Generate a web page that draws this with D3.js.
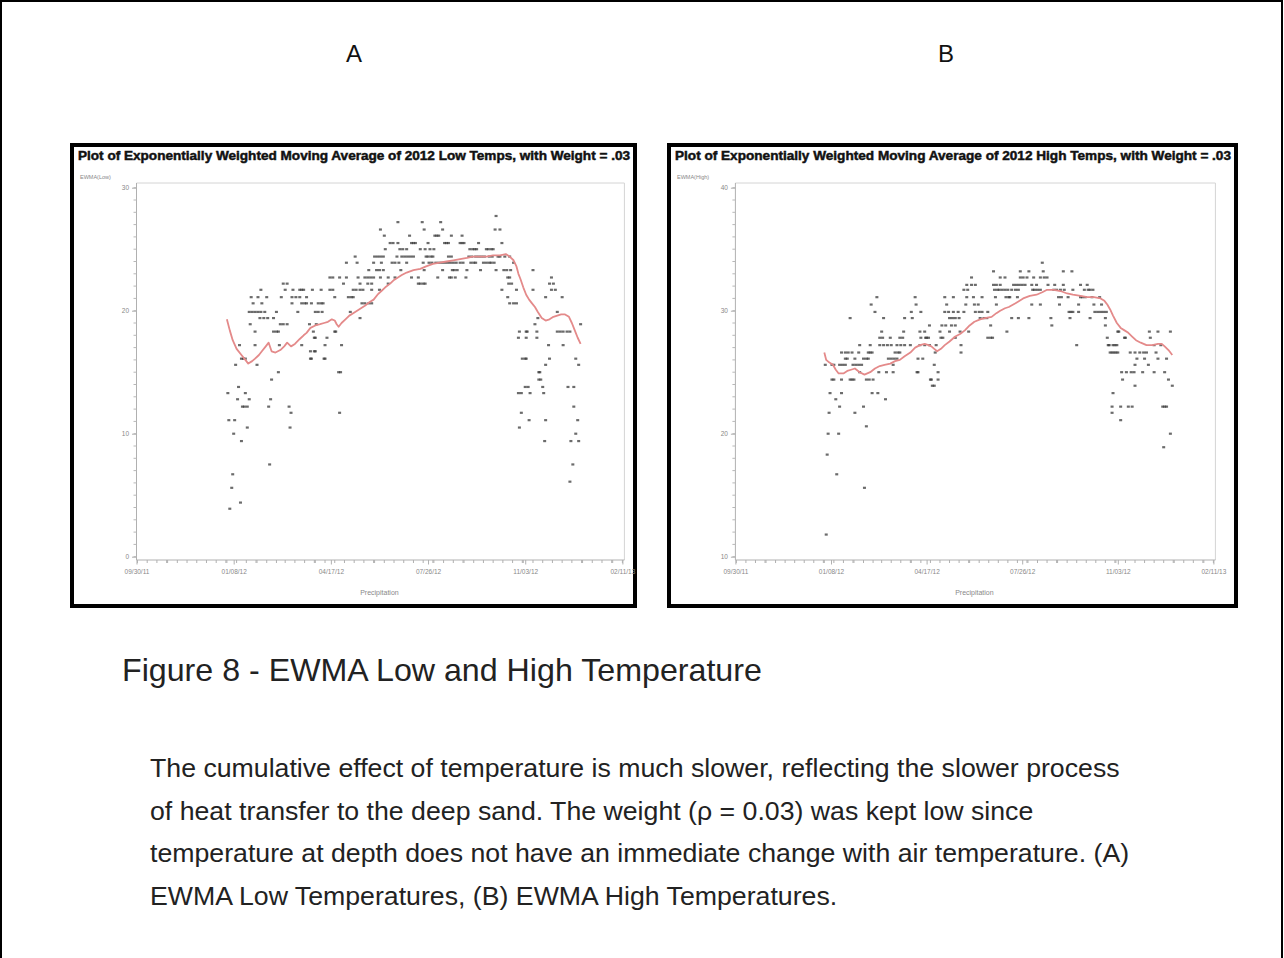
<!DOCTYPE html>
<html><head><meta charset="utf-8">
<script src="https://cdn.jsdelivr.net/npm/d3@7"></script>
<style>body{margin:0;background:#fff}svg{display:block}</style>
</head><body>
<svg id="c" width="1284" height="958"></svg>
<script>
// ---------- DATA ----------
// Day index = days since 1 Jan 2012
const xTickLabels = ["09/30/11","01/08/12","04/17/12","07/26/12","11/03/12","02/11/13"];
const xTickDates = [[2011,8,30],[2012,0,8],[2012,3,17],[2012,6,26],[2012,10,3],[2013,1,11]];
const lowYTicks = [0,10,20,30];
const highYTicks = [10,20,30,40];

// Low temps: [value, [days]]
const lowRows = [
 [27.7,[277]],
 [27.2,[176,201,220]],
 [26.6,[158,203,222,276,281]],
 [26.1,[162,188,214,216,218,231,242]],
 [25.5,[168,171,176,190,192,194,207,224,226,228,240,242,244,259,283]],
 [25.0,[163,178,181,185,199,204,209,213,250,253,255,257,267,269,272,274]],
 [24.4,[132,152,155,158,161,175,180,183,186,189,192,205,207,210,212,228,231,249,252,256,259,262,265,270,273,279,281,286,291]],
 [23.9,[123,134,151,159,170,173,177,185,202,208,211,215,218,221,224,227,230,233,236,240,243,251,254,256,264,267,270,272,275,295]],
 [23.3,[146,154,157,161,179,203,222,232,234,237,247,261,277,285,288,292,315]],
 [22.7,[106,109,116,123,135,142,145,148,151,158,166,173,190,197,217,229,231,235,246,289,291,334]],
 [22.2,[58,62,120,137,145,149,166,197,199,202,204,290,293,332,336]],
 [21.7,[35,60,68,75,77,79,88,97,106,109,130,133,137,140,149,157,283,298,315,334,338]],
 [21.1,[25,32,41,56,67,71,75,82,111,125,128,130,289,328,345]],
 [20.6,[27,36,67,77,80,82,87,94,97,99,139,142,146,149,291,295,298]],
 [19.9,[23,26,29,32,35,39,51,73,91,94,98,127,340]],
 [19.4,[34,38,42,48,137,320]],
 [18.9,[24,55,58,62,85,92,317,364]],
 [18.3,[29,48,51,53,89,111,112,301,308,309,319,340,343,346,350,353]],
 [17.8,[90,91,103,300,308,319]],
 [17.2,[13,29,54,77,101,118,331,346]],
 [16.7,[86,90,91]],
 [16.1,[15,17,19,86,87,100,101,304,307,308,332,359]],
 [15.6,[9,31,328,362]],
 [15.0,[53,115,117,321,322]],
 [14.4,[46,321,323]],
 [13.8,[12,307,310,325,351,357]],
 [13.3,[1,19,300,303,312,326]],
 [12.8,[11,23,45]],
 [12.2,[16,18,21,43,64,357]],
 [11.7,[66,116,303]],
 [11.1,[2,8,311,328,361]],
 [10.5,[21,65,301]],
 [10.0,[7,359]],
 [9.4,[15,327,354,362]],
 [7.5,[44,356]],
 [6.7,[6]],
 [6.1,[353]],
 [5.6,[5]],
 [4.4,[14]],
 [3.9,[3]]
];
const lowEwma = [[0,19.3],[3,18.4],[6,17.6],[10,16.9],[15,16.4],[19,16.0],[22,15.7],[26,15.9],[29,16.1],[33,16.4],[36,16.7],[40,17.1],[43,17.4],[46,16.7],[50,16.6],[55,16.8],[59,17.1],[62,17.4],[66,17.1],[70,17.3],[75,17.7],[79,18.0],[82,18.2],[86,18.6],[91,18.8],[96,18.9],[100,19.0],[104,19.1],[108,19.3],[111,19.2],[113,18.9],[115,18.7],[118,19.0],[122,19.3],[126,19.6],[130,19.8],[136,20.1],[142,20.4],[147,20.7],[151,20.9],[155,21.3],[159,21.6],[163,21.9],[168,22.2],[172,22.5],[176,22.7],[180,22.9],[185,23.1],[192,23.3],[199,23.4],[205,23.6],[212,23.8],[219,23.9],[226,24.0],[233,24.1],[240,24.2],[247,24.3],[253,24.4],[260,24.4],[267,24.4],[274,24.5],[281,24.5],[287,24.6],[291,24.4],[295,24.1],[298,23.6],[300,23.0],[302,22.6],[305,21.9],[308,21.3],[311,20.9],[314,20.6],[317,20.3],[320,19.9],[324,19.4],[328,19.2],[332,19.3],[336,19.5],[340,19.6],[344,19.7],[348,19.7],[352,19.5],[355,19.0],[358,18.4],[361,17.8],[364,17.3]];

// High temps: [value, [days]]
const highRows = [
 [33.9,[228]],
 [33.2,[177,205,214,229,250,259]],
 [32.7,[154,184,189,205,208,212,219,226,230,233]],
 [32.1,[149,154,158,177,180,184,198,201,204,207,210,217,222,234,241,250,268,275]],
 [31.7,[146,150,178,181,183,186,189,192,196,200,203,218,220,223,226,240,243,247,251,260,272,276,278,281]],
 [31.1,[55,95,126,135,149,156,165,179,190,193,194,202,245,248,255,268,270,273,280,288]],
 [30.5,[49,96,128,148,157,161,180,217,226,246,266,282,290]],
 [29.9,[53,91,101,126,130,135,140,146,158,162,165,171,256,258,260,266,283,286,289,292,295]],
 [29.4,[27,62,84,92,131,134,137,141,163,167,170,196,203,214,237,257,278,294]],
 [28.8,[110,123,127,133,137,174,238,294]],
 [28.3,[60,83,100,105,121,131,142,151,191,307,308,340,349,362]],
 [27.8,[58,61,69,79,82,101,106,107,109,122,124,137,171,174,176,296,314,315,341]],
 [27.2,[37,48,58,62,66,70,76,80,84,90,100,105,110,117,143,264,297,298,302,304,306,345,352]],
 [26.6,[18,22,25,29,36,46,48,50,74,77,79,116,143,299,301,303,305,307,320,325,330,334,337,347]],
 [26.1,[22,24,32,41,44,46,67,70,73,76,98,103,327,335,349,358]],
 [25.6,[1,8,10,16,19,22,30,33,36,39,72,115,325,339]],
 [25.0,[37,57,65,72,97,98,119,311,316,321,324,333,345,356]],
 [24.4,[8,10,18,27,29,31,44,47,51,111,112,119,312,360]],
 [23.9,[113,115,325,364]],
 [23.3,[6,18,50,56,302]],
 [22.8,[12,64]],
 [22.2,[16,41,301,310,318,322,354,356,358]],
 [21.7,[5,32,301]],
 [21.1,[310]],
 [20.6,[44]],
 [20.0,[4,15,362]],
 [18.9,[355]],
 [18.3,[3]],
 [16.7,[13]],
 [15.6,[42]],
 [11.8,[2]]
];
const highEwma = [[0,26.6],[2,26.0],[5,25.8],[9,25.6],[12,25.2],[15,24.9],[20,24.9],[24,25.1],[28,25.2],[32,25.3],[37,25.0],[42,24.8],[45,24.9],[48,25.0],[53,25.3],[58,25.5],[63,25.6],[69,25.7],[74,25.9],[79,26.0],[84,26.3],[90,26.6],[95,27.0],[100,27.2],[105,27.3],[109,27.2],[112,27.1],[115,26.9],[118,26.7],[122,26.9],[126,27.2],[131,27.5],[137,27.9],[142,28.1],[147,28.4],[152,28.8],[157,29.1],[163,29.3],[168,29.4],[175,29.5],[180,29.8],[184,30.0],[189,30.2],[193,30.3],[200,30.6],[208,31.0],[215,31.2],[222,31.3],[228,31.5],[233,31.7],[240,31.7],[247,31.6],[254,31.4],[260,31.3],[268,31.2],[275,31.1],[282,31.1],[289,31.0],[293,30.8],[296,30.5],[299,30.1],[302,29.6],[306,29.0],[310,28.6],[314,28.4],[318,28.2],[322,27.9],[326,27.6],[331,27.4],[337,27.2],[343,27.2],[349,27.3],[353,27.3],[356,27.1],[360,26.8],[364,26.4]];

const panelLetters = ["A","B"];
const titles = ["Plot of Exponentially Weighted Moving Average of 2012 Low Temps, with Weight = .03",
                "Plot of Exponentially Weighted Moving Average of 2012 High Temps, with Weight = .03"];
const yLabels = ["EWMA(Low)","EWMA(High)"];
const xLabel = "Precipitation";
const caption = "Figure 8 - EWMA Low and High Temperature";
const paragraph = [
 "The cumulative effect of temperature is much slower, reflecting the slower process",
 "of heat transfer to the deep sand. The weight (\u03c1 = 0.03) was kept low since",
 "temperature at depth does not have an immediate change with air temperature. (A)",
 "EWMA Low Temperatures, (B) EWMA High Temperatures."
];

// ---------- DRAWING ----------
const FONT = '"Liberation Sans", Arial, Helvetica, sans-serif';
const svg = d3.select('#c');
svg.append('rect').attr('width',1284).attr('height',958).attr('fill','#fff');
svg.append('path').attr('d','M1,958 V1 H1282 V958').attr('fill','none').attr('stroke','#000').attr('stroke-width',2);

const dayDate = d => new Date(Date.UTC(2012,0,1+d));
const tickDates = xTickDates.map(a => new Date(Date.UTC(a[0],a[1],a[2])));

function drawPanel(cfg){
  const g = svg.append('g');
  const x = d3.scaleUtc().domain([tickDates[0], tickDates[tickDates.length-1]]).range([cfg.ax0, cfg.ax1]);
  const y = d3.scaleLinear().domain(cfg.yDomain).range([556.7, 187.7]);

  g.append('rect').attr('x',cfg.fx+2).attr('y',145).attr('width',cfg.fw-4).attr('height',461)
    .attr('fill','#fff').attr('stroke','#000').attr('stroke-width',4);
  g.append('text').attr('x',cfg.fx+8).attr('y',159.5)
    .attr('textLength',cfg.fw-15).attr('lengthAdjust','spacingAndGlyphs')
    .style('font',`bold 12px ${FONT}`).attr('fill','#111')
    .attr('stroke','#111').attr('stroke-width',0.45).text(cfg.title);
  g.append('text').attr('x',cfg.fx+10).attr('y',178.5).style('font',`5.5px ${FONT}`).attr('fill','#888').text(cfg.yLabel);

  // plot frame (top/right)
  g.append('path').attr('d',`M${cfg.ax0},183 H${cfg.ax1+2} V560`).attr('fill','none').attr('stroke','#d4d4d4').attr('stroke-width',1);
  // axis lines
  g.append('path').attr('d',`M${cfg.ax0},183 V560 H${cfg.ax1+2}`).attr('fill','none').attr('stroke','#b0b0b0').attr('stroke-width',1);

  // x minor ticks every 10 days
  const minor = d3.utcDay.every(10).range(tickDates[0], new Date(+tickDates[5]+86400000));
  g.append('g').selectAll('line').data(minor).join('line')
    .attr('x1',d=>x(d)).attr('x2',d=>x(d)).attr('y1',560).attr('y2',563)
    .attr('stroke','#b0b0b0');
  const xa = g.append('g').attr('transform','translate(0,560)')
    .call(d3.axisBottom(x).tickValues(tickDates).tickFormat((d,i)=>xTickLabels[i]).tickSize(4.5).tickSizeOuter(0).tickPadding(5));
  xa.select('.domain').remove();
  xa.selectAll('line').attr('stroke','#b0b0b0');
  xa.selectAll('text').style('font',`6.5px ${FONT}`).attr('fill','#888');

  // y minor ticks every 1 unit
  const yMinor = d3.range(cfg.yDomain[0], cfg.yDomain[1]+0.001, 1);
  g.append('g').selectAll('line').data(yMinor).join('line')
    .attr('x1',cfg.ax0-3).attr('x2',cfg.ax0).attr('y1',d=>y(d)).attr('y2',d=>y(d)).attr('stroke','#b8b8b8');
  const ya = g.append('g').attr('transform',`translate(${cfg.ax0},0)`)
    .call(d3.axisLeft(y).tickValues(cfg.yTicks).tickFormat(d3.format('d')).tickSize(4.5).tickSizeOuter(0).tickPadding(3));
  ya.select('.domain').remove();
  ya.selectAll('line').attr('stroke','#b0b0b0');
  ya.selectAll('text').style('font',`6.5px ${FONT}`).attr('fill','#888');

  g.append('text').attr('x',(cfg.ax0+cfg.ax1)/2).attr('y',595).attr('text-anchor','middle')
    .style('font',`7px ${FONT}`).attr('fill','#888').text(xLabel);

  // scatter points
  const pts = [];
  cfg.rows.forEach(([v,days]) => days.forEach(d => pts.push([d,v])));
  g.append('g').selectAll('rect').data(pts).join('rect')
    .attr('x',p=>x(dayDate(p[0]))-1.5).attr('y',p=>y(p[1])-1.1)
    .attr('width',3).attr('height',2.2).attr('fill','#3a3a3a').attr('opacity',0.75);

  // EWMA line
  g.append('path').datum(cfg.ewma)
    .attr('d', d3.line().x(p=>x(dayDate(p[0]))).y(p=>y(p[1])))
    .attr('fill','none').attr('stroke','#e48a8a').attr('stroke-width',1.8).attr('stroke-linejoin','round');
}

drawPanel({fx:70, fw:567, ax0:136.5, ax1:622.4, yDomain:[0,30], yTicks:lowYTicks,
  title:titles[0], yLabel:yLabels[0], rows:lowRows, ewma:lowEwma});
drawPanel({fx:667, fw:571, ax0:735.4, ax1:1213.4, yDomain:[10,40], yTicks:highYTicks,
  title:titles[1], yLabel:yLabels[1], rows:highRows, ewma:highEwma});

// panel letters
[[354,panelLetters[0]],[946,panelLetters[1]]].forEach(([cx,t]) =>
  svg.append('text').attr('x',cx).attr('y',62).attr('text-anchor','middle')
    .style('font',`24px ${FONT}`).attr('fill','#111').text(t));

// caption
function fitSize(el, target, base){
  const w = el.node().getComputedTextLength();
  return base * target / w;
}
const cap = svg.append('text').attr('x',122).attr('y',681).attr('fill','#222').style('font',`26px ${FONT}`).text(caption);
const cs = fitSize(cap, 640, 26);
cap.style('font',`${cs}px ${FONT}`);

const lineYs = [777,820,862,905];
const lines = paragraph.map((t,i)=> svg.append('text').attr('x',150).attr('y',lineYs[i]).attr('fill','#222').style('font',`21px ${FONT}`).text(t));
const ps = fitSize(lines[0], 970, 21);
lines.forEach(l => l.style('font',`${ps}px ${FONT}`));
</script>
</body></html>
